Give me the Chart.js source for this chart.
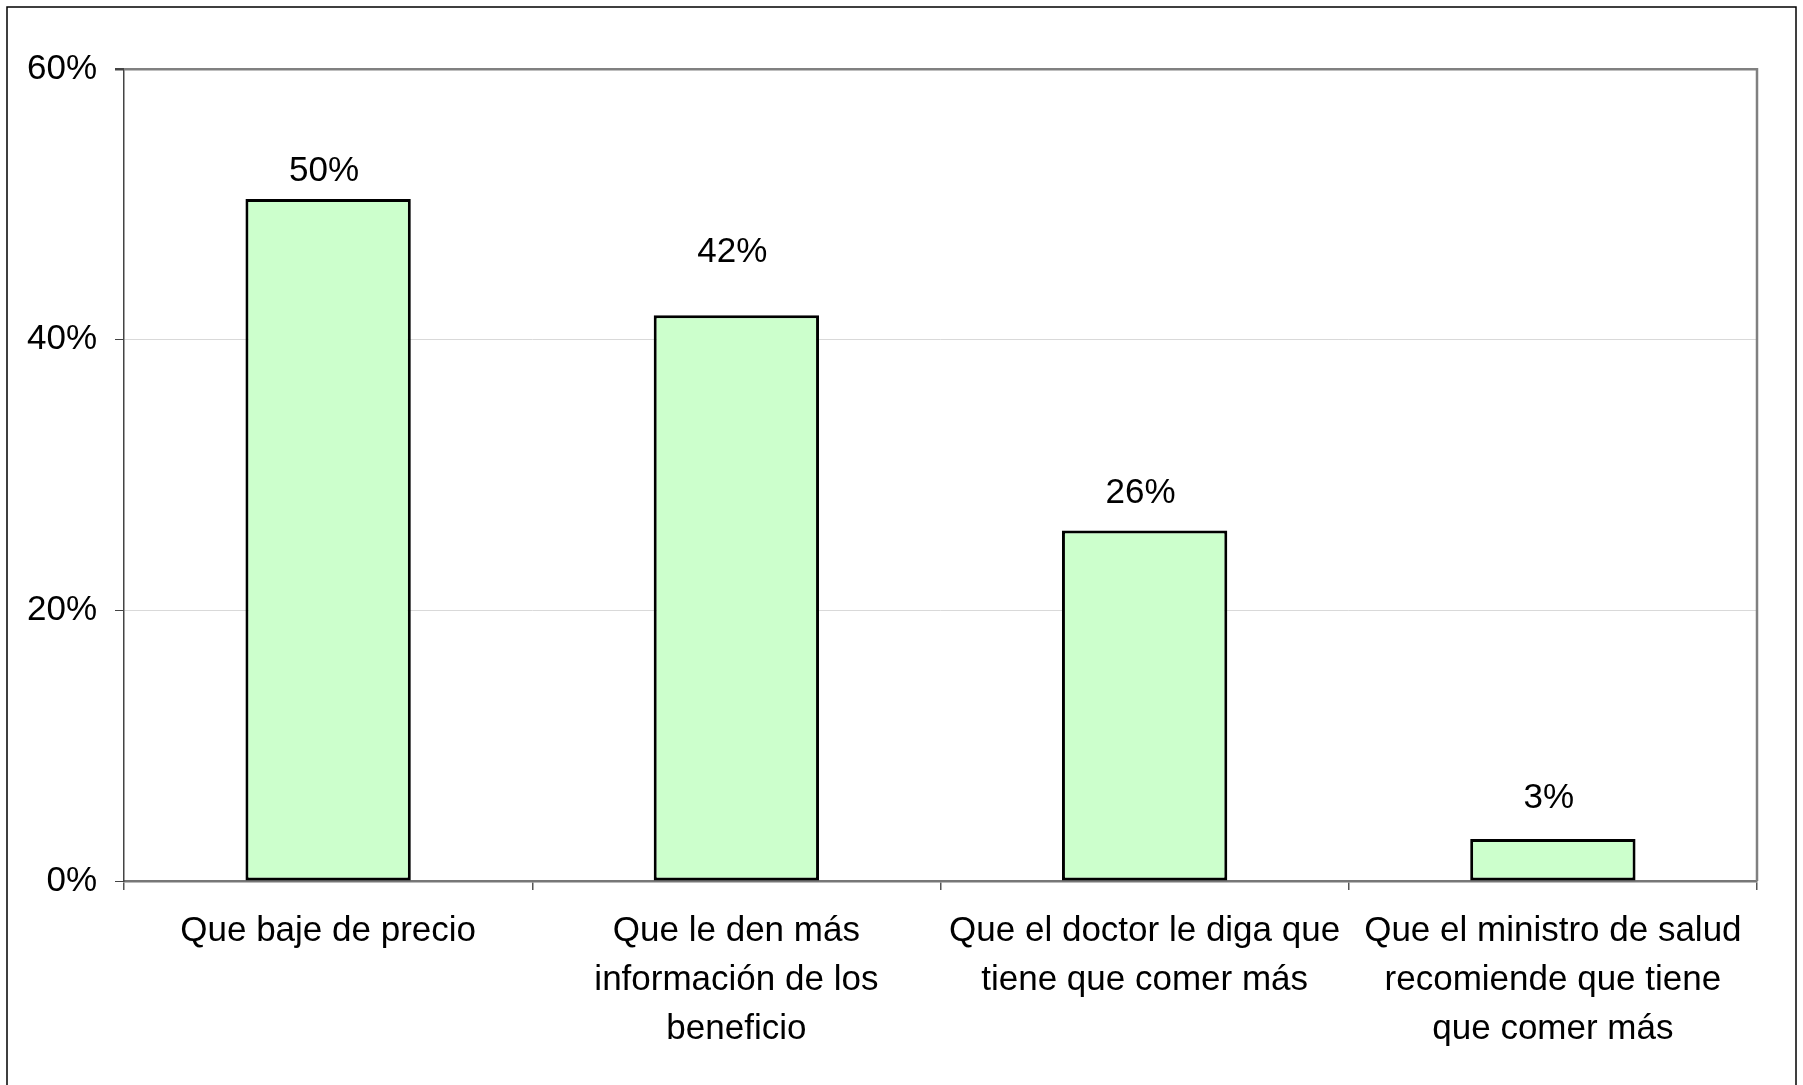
<!DOCTYPE html>
<html>
<head>
<meta charset="utf-8">
<script src="https://cdn.jsdelivr.net/npm/chart.js@4/dist/chart.umd.min.js"></script>
<style>
  html, body { margin: 0; padding: 0; background: #fff; }
  #wrap { width: 1803px; height: 1085px; }
</style>
</head>
<body>
<div id="wrap"><canvas id="chart" width="1803" height="1085"></canvas></div>
<script>
var categories = [
    'Que baje de precio',
    ['Que le den más', 'información de los', 'beneficio'],
    ['Que el doctor le diga que', 'tiene que comer más'],
    ['Que el ministro de salud', 'recomiende que tiene', 'que comer más']
];
var values = [50.4, 41.8, 25.9, 3.1];
var valueLabels = ['50%', '42%', '26%', '3%'];
var yTicks = [0, 20, 40, 60];

var fontFamily = '"Liberation Sans", Arial, sans-serif';

// value labels above bars, offsets follow the original layout
var barLabels = {
    id: 'barLabels',
    afterDatasetsDraw: function(chart, args, opts) {
        var ctx = chart.ctx;
        var meta = chart.getDatasetMeta(0);
        ctx.save();
        ctx.font = '35px ' + fontFamily;
        ctx.fillStyle = '#000';
        ctx.textAlign = 'center';
        ctx.textBaseline = 'middle';
        meta.data.forEach(function(bar, i) {
            ctx.fillText(valueLabels[i], bar.x - 4, bar.y - opts.offsets[i]);
        });
        ctx.restore();
    }
};

// outer frame and right edge of the plot
var frame = {
    id: 'frame',
    afterDraw: function(chart) {
        var ctx = chart.ctx;
        var a = chart.chartArea;
        ctx.save();
        ctx.strokeStyle = '#000';
        ctx.lineWidth = 1.5;
        ctx.strokeRect(7, 7, 1789, 1200);
        ctx.strokeStyle = '#808080';
        ctx.lineWidth = 2.5;
        ctx.beginPath();
        ctx.moveTo(a.right, a.top - 1);
        ctx.lineTo(a.right, a.bottom);
        ctx.stroke();
        ctx.restore();
    }
};

new Chart(document.getElementById('chart'), {
    type: 'bar',
    data: {
        labels: categories,
        datasets: [{
            data: values,
            backgroundColor: '#CCFFCC',
            borderColor: '#000',
            borderWidth: 3,
            borderSkipped: false,
            barPercentage: 0.405,
            categoryPercentage: 1
        }]
    },
    options: {
        responsive: false,
        animation: false,
        layout: { padding: { top: 69, right: 46, bottom: 0, left: 0 } },
        plugins: {
            legend: { display: false },
            tooltip: { enabled: false },
            barLabels: { offsets: [28, 63, 37, 41] }
        },
        scales: {
            x: {
                afterFit: function(s) { s.height = 204; },
                grid: {
                    offset: true,
                    drawOnChartArea: false,
                    tickLength: 9,
                    tickColor: '#555',
                    lineWidth: 1.5
                },
                border: { color: '#777', width: 2.5 },
                ticks: {
                    color: '#000',
                    font: { family: fontFamily, size: 35, lineHeight: 1.4 },
                    padding: 17,
                    maxRotation: 0,
                    autoSkip: false
                }
            },
            y: {
                min: 0,
                max: 60,
                afterFit: function(s) { s.width = 124; },
                afterBuildTicks: function(s) {
                    s.ticks = yTicks.map(function(v) { return { value: v }; });
                },
                grid: {
                    color: function(c) { return c.tick && c.tick.value === 60 ? '#808080' : '#d9d9d9'; },
                    lineWidth: function(c) { return c.tick && c.tick.value === 60 ? 2.5 : 1; },
                    tickLength: 9,
                    tickColor: '#444'
                },
                border: { color: '#444', width: 1.5 },
                ticks: {
                    color: '#000',
                    font: { family: fontFamily, size: 35 },
                    padding: 18,
                    callback: function(v) { return v + '%'; }
                }
            }
        }
    },
    plugins: [barLabels, frame]
});
</script>
</body>
</html>
